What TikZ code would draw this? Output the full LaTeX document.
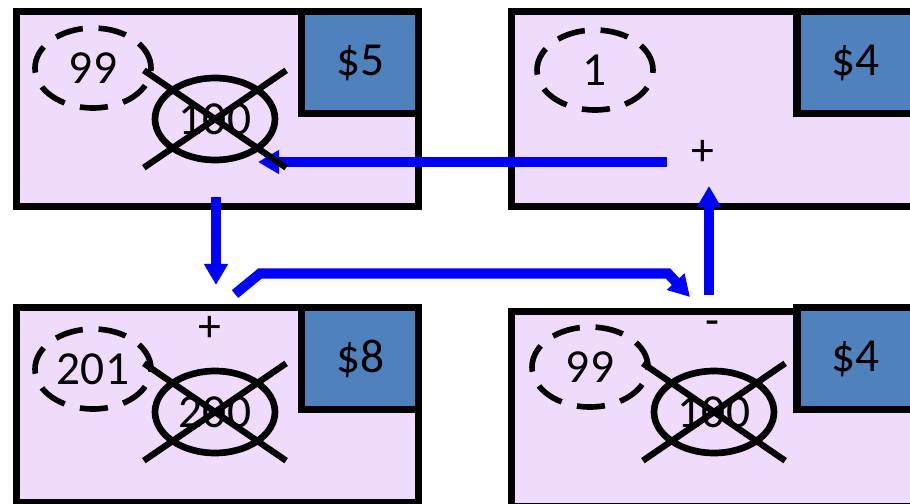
\documentclass[tikz,border=0pt]{standalone}
\usepackage{fontspec}
\setmainfont{Carlito}
\usetikzlibrary{shapes.geometric,shapes.misc,arrows.meta}
\definecolor{lavender}{RGB}{239,220,253}
\definecolor{cellblue}{RGB}{79,129,189}

\begin{document}
\begin{tikzpicture}[x=0.02cm, y=-0.02cm,
    acct/.style={rectangle, draw=black, line width=4pt, fill=lavender, minimum width=8.06cm, minimum height=3.91cm},
    coin/.style={rectangle, draw=black, line width=4pt, fill=cellblue, minimum width=2.35cm, minimum height=2.04cm, anchor=north east, font=\fontsize{27}{32}\selectfont},
    newval/.style={ellipse, draw=black, line width=3.2pt, dash pattern=on 16pt off 9pt, minimum width=2.32cm, minimum height=1.6cm, inner sep=0pt, font=\fontsize{27}{32}\selectfont},
    oldval/.style={ellipse, draw=black, line width=3.8pt, minimum width=2.4cm, minimum height=1.64cm, inner sep=0pt, font=\fontsize{27}{32}\selectfont},
    gone/.style={cross out, draw=black, line width=3.6pt, minimum width=2.72cm, minimum height=1.82cm},
    sign/.style={font=\fontsize{26}{30}\selectfont, inner sep=1pt},
    flow/.style={draw=blue, line width=5.7pt, -{Triangle[length=12pt, width=13pt]}}]
				\useasboundingbox (0,0) rectangle (910,504);
				
				\node[acct] (tl) at (217.5,109.25){};
				\node[acct] (tr) at (713,109.25){};
				\node[acct] (bl) at (217.5,405.25){};
				\node[acct] (br) at (713,409.25){};
				
				\node[coin] (tlc) at (tl.north east){\$5};
				\node[coin] (trc) at (tr.north east){\$4};
				\node[coin] (blc) at (bl.north east){\$8};
				\node[coin] (brc) at ([yshift=0.08cm]br.north east){\$4};
				
				\node[sign] (tls) at (215,167){-};
				\node[sign] (trs) at (703,153){+};
				\node[sign] (bls) at (210,329){+};
				\node[sign] (brs) at (712,328){-};
				
				\coordinate (a1) at (667,162);
				\coordinate (a2) at (258,162);
				\coordinate (b1) at (216,197);
				\coordinate (b2) at (216,285);
				\coordinate (c1) at (235,294);
				\coordinate (c2) at (260,273.5);
				\coordinate (c3) at (668,273.5);
				\coordinate (c4) at (690,297);
				\coordinate (d1) at (709,295);
				\coordinate (d2) at (709,186);
				
				\path[flow] (a1) -- (a2);
				\path[flow] (b1) -- (b2);
				\path[flow] (c1) -- (c2) -- (c3) -- (c4);
				\path[flow] (d1) -- (d2);
				
				\node[newval] (tln) at (93,68){99};
				\node[newval] (trn) at (595,70){1};
				\node[newval] (bln) at (93,369){201};
				\node[newval] (brn) at (590,367){99};
				
				\node[oldval] (tlo) at (215,119){100};
				\node[oldval] (blo) at (215,412){200};
				\node[oldval] (bro) at (714,412){100};
				
				\node[gone] (tlx) at (tlo){};
				\node[gone] (blx) at (blo){};
				\node[gone] (brx) at (bro){};
\end{tikzpicture}
\end{document}
